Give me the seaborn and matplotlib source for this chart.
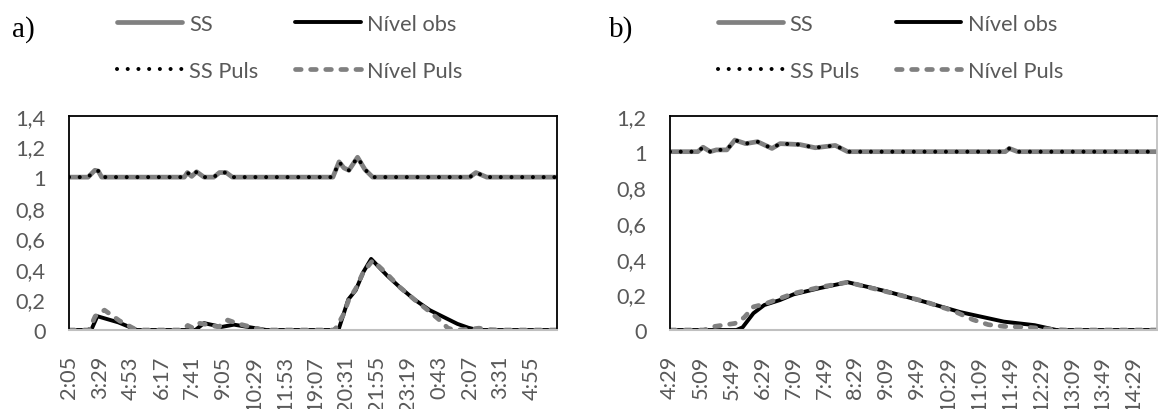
import numpy as np
import pandas as pd
import matplotlib
matplotlib.use("Agg")
import matplotlib.pyplot as plt
import seaborn as sns

# tick labels (one every 7 records in a, every 4 records in b)
labels_a = ["2:05", "3:29", "4:53", "6:17", "7:41", "9:05", "10:29", "11:53",
            "19:07", "20:31", "21:55", "23:19", "0:43", "2:07", "3:31", "4:55"]
labels_b = ["4:29", "5:09", "5:49", "6:29", "7:09", "7:49", "8:29", "9:09",
            "9:49", "10:29", "11:09", "11:49", "12:29", "13:09", "13:49", "14:29"]

yticks_a = [0, 0.2, 0.4, 0.6, 0.8, 1.0, 1.2, 1.4]
ytlab_a = ["0", "0,2", "0,4", "0,6", "0,8", "1", "1,2", "1,4"]
yticks_b = [0, 0.2, 0.4, 0.6, 0.8, 1.0, 1.2]
ytlab_b = ["0", "0,2", "0,4", "0,6", "0,8", "1", "1,2"]

# ---- panel a (x = position in tick-label steps) ----
ss_a_x = [0, 0.62, 0.84, 0.95, 1.06, 3.74, 3.84, 3.98, 4.14, 4.38, 4.7, 4.88,
          5.1, 5.3, 8.56, 8.76, 8.92, 9.08, 9.36, 9.6, 9.85, 13.0, 13.2, 13.55, 15.83]
ss_a_y = [1.0, 1.0, 1.045, 1.04, 1.0, 1.0, 1.03, 1.005, 1.035, 1.0, 1.0, 1.03,
          1.03, 1.0, 1.0, 1.1, 1.06, 1.045, 1.13, 1.05, 1.0, 1.0, 1.03, 1.0, 1.0]
sspuls_a_x = ss_a_x
sspuls_a_y = ss_a_y

obs_a_x = [0, 0.72, 0.92, 1.6, 2.2, 4.1, 4.38, 4.95, 5.35, 6.1, 6.4, 8.74, 9.06,
           9.3, 9.55, 9.8, 10.3, 10.73, 11.2, 11.7, 12.2, 12.6, 12.95, 13.25, 15.83]
obs_a_y = [0, 0, 0.09, 0.05, 0, 0, 0.045, 0.02, 0.035, 0.01, 0, 0, 0.2,
           0.26, 0.38, 0.465, 0.36, 0.28, 0.2, 0.13, 0.08, 0.04, 0.015, 0, 0]

puls_a_x = [0, 0.65, 0.85, 1.15, 1.64, 2.19, 3.7, 3.85, 4.0, 4.2, 4.5, 4.85, 5.15,
            5.5, 6.0, 6.3, 8.62, 8.9, 9.08, 9.3, 9.55, 9.85, 10.3, 10.73, 11.2,
            11.7, 12.05, 12.3, 12.6, 13.0, 13.3, 13.6, 14.0, 15.83]
puls_a_y = [0, 0, 0.09, 0.13, 0.06, 0, 0, 0.03, 0.015, 0.045, 0.035, 0.02, 0.065,
            0.04, 0.015, 0, 0, 0.1, 0.2, 0.27, 0.38, 0.455, 0.37, 0.28, 0.2,
            0.12, 0.06, 0.01, 0, 0.005, 0.012, 0.003, 0, 0]

# ---- panel b ----
ss_b_x = [0, 0.9, 1.07, 1.3, 1.5, 1.84, 2.1, 2.45, 2.83, 3.3, 3.56, 4.2, 4.7,
          5.35, 5.75, 10.85, 10.98, 11.25, 15.76]
ss_b_y = [1.0, 1.0, 1.025, 1.0, 1.01, 1.01, 1.065, 1.045, 1.056, 1.018, 1.045,
          1.04, 1.022, 1.035, 1.0, 1.0, 1.018, 1.0, 1.0]
sspuls_b_x = ss_b_x
sspuls_b_y = ss_b_y

obs_b_x = [0, 2.15, 2.35, 2.7, 3.05, 3.56, 4.0, 4.85, 5.75, 7.0, 8.2, 9.4,
           10.8, 11.8, 12.5, 15.76]
obs_b_y = [0, 0, 0.015, 0.094, 0.14, 0.168, 0.2, 0.235, 0.268, 0.217, 0.16,
           0.1, 0.047, 0.027, 0, 0]

puls_b_x = [0, 1.1, 1.4, 2.1, 2.4, 2.7, 3.05, 4.0, 4.85, 5.75, 7.0, 8.2, 9.2,
            9.8, 10.3, 10.8, 11.6, 12.4, 12.8, 15.76]
puls_b_y = [0, 0, 0.019, 0.037, 0.07, 0.13, 0.145, 0.205, 0.24, 0.268, 0.215,
            0.162, 0.105, 0.058, 0.03, 0.02, 0.015, 0.003, 0, 0]

GRAY = "#808080"
TXT = "#595959"

sns.set_style("white")
plt.rcParams["font.family"] = ["Lato", "DejaVu Sans"]

fig = plt.figure(figsize=(11.58, 4.10), dpi=100)
ax_a = fig.add_axes([69 / 1158, 1 - 331 / 410, 488 / 1158, 214 / 410])
ax_b = fig.add_axes([670 / 1158, 1 - 331 / 410, 487 / 1158, 214 / 410])


def draw(ax, ssx, ssy, spx, spy, ox, oy, px, py, xlabels, yt, ytl, ymax, xmax):
    sns.lineplot(x=ssx, y=ssy, ax=ax, color=GRAY, lw=3.4, estimator=None,
                 sort=False, label="SS", solid_capstyle="round")
    sns.lineplot(x=ox, y=oy, ax=ax, color="black", lw=2.8, estimator=None,
                 sort=False, label="Nível obs", solid_capstyle="round")
    sns.lineplot(x=px, y=py, ax=ax, color=GRAY, lw=3.4, estimator=None,
                 sort=False, label="Nível Puls", linestyle=(0, (1.2, 2.0)),
                 dash_capstyle="round")
    sns.lineplot(x=spx, y=spy, ax=ax, color="black", lw=2.9, estimator=None,
                 sort=False, label="SS Puls", linestyle=(0, (0.01, 2.65)),
                 dash_capstyle="round")

    ax.set_xlim(0, xmax)
    ax.set_ylim(0, ymax)
    ax.set_xticks(range(len(xlabels)))
    ax.set_xticklabels(xlabels, rotation=90)
    ax.set_yticks(yt)
    ax.set_yticklabels(ytl)
    ax.tick_params(axis="both", length=0, labelsize=15.7, colors=TXT)
    ax.tick_params(axis="x", pad=18)
    ax.tick_params(axis="y", pad=17)
    ax.set_xlabel("")
    ax.set_ylabel("")
    for s in ["left", "top", "right"]:
        ax.spines[s].set_color("black")
        ax.spines[s].set_linewidth(1.3)
    ax.spines["bottom"].set_color("#c0c0c0")
    ax.spines["bottom"].set_linewidth(1.5)

    h, l = ax.get_legend_handles_labels()
    order = ["SS", "SS Puls", "Nível obs", "Nível Puls"]
    hd = dict(zip(l, h))
    ax.legend([hd[k] for k in order], order, ncol=2, loc="upper left",
              bbox_to_anchor=(0.098, 1.477), frameon=False, borderpad=0,
              borderaxespad=0, handlelength=3.0, handletextpad=0.3,
              columnspacing=1.7, labelspacing=1.22, fontsize=15.7,
              labelcolor=TXT)


draw(ax_a, ss_a_x, ss_a_y, sspuls_a_x, sspuls_a_y, obs_a_x, obs_a_y,
     puls_a_x, puls_a_y, labels_a, yticks_a, ytlab_a, 1.4, 15.83)
draw(ax_b, ss_b_x, ss_b_y, sspuls_b_x, sspuls_b_y, obs_b_x, obs_b_y,
     puls_b_x, puls_b_y, labels_b, yticks_b, ytlab_b, 1.2, 15.76)
ax_b.spines["right"].set_color("#c0c0c0")

fig.text(23 / 1158, 1 - 30 / 410, "a)", family="Liberation Serif", fontsize=21,
         ha="center", va="center", color="black")
fig.text(621 / 1158, 1 - 30 / 410, "b)", family="Liberation Serif", fontsize=21,
         ha="center", va="center", color="black")

fig.savefig("out.png", dpi=100)
